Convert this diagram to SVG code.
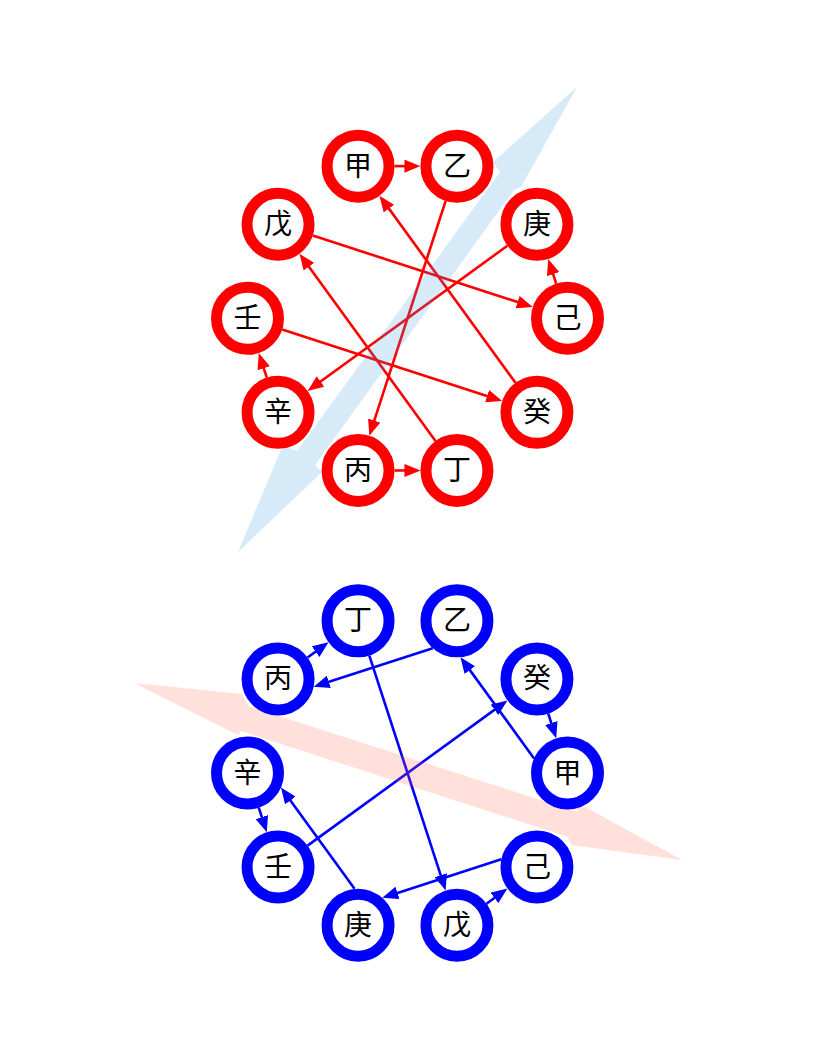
<svg xmlns="http://www.w3.org/2000/svg" width="816" height="1056" viewBox="0 0 816 1056">
<style>
.rn{fill:#ffffff;stroke:#ff0000;stroke-width:11}
.bn{fill:#ffffff;stroke:#0000ff;stroke-width:11}
.re{stroke:#ff0000;stroke-width:2.6;fill:none;marker-end:url(#ra)}
.be{stroke:#0000ff;stroke-width:2.6;fill:none;marker-end:url(#ba)}
.t{font-family:"Liberation Serif","Noto Sans CJK SC",serif;font-size:28px;fill:#000000;text-anchor:middle;dominant-baseline:central}
</style>
<defs>
<marker id="ra" markerUnits="userSpaceOnUse" viewBox="0 0 16 13" markerWidth="16" markerHeight="13" refX="8" refY="6.5" orient="auto"><path d="M0,0 L16,6.5 L0,13 z" fill="#ff0000"/></marker>
<marker id="ba" markerUnits="userSpaceOnUse" viewBox="0 0 16 13" markerWidth="16" markerHeight="13" refX="8" refY="6.5" orient="auto"><path d="M0,0 L16,6.5 L0,13 z" fill="#0000ff"/></marker>
</defs>
<rect width="816" height="1056" fill="#ffffff"/>
<g id="connectors">
<line class="re" x1="394.56" y1="166.13" x2="412.44" y2="166.13"/>
<line class="re" x1="445.66" y1="200.84" x2="371.81" y2="428.15"/>
<line class="re" x1="394.56" y1="470.47" x2="412.44" y2="470.47"/>
<line class="re" x1="435.49" y1="440.94" x2="304.21" y2="260.25"/>
<line class="re" x1="312.77" y1="235.53" x2="525.18" y2="304.55"/>
<line class="re" x1="556.22" y1="283.59" x2="550.69" y2="266.57"/>
<line class="re" x1="507.41" y1="245.71" x2="314.06" y2="386.19"/>
<line class="re" x1="266.78" y1="377.64" x2="261.25" y2="360.62"/>
<line class="re" x1="282.21" y1="329.58" x2="494.62" y2="398.60"/>
<line class="re" x1="515.49" y1="382.82" x2="384.21" y2="202.13"/>
<line class="be" x1="534.04" y1="758.42" x2="465.16" y2="663.62"/>
<line class="be" x1="432.74" y1="648.14" x2="321.31" y2="684.35"/>
<line class="be" x1="307.59" y1="657.50" x2="322.06" y2="646.98"/>
<line class="be" x1="369.34" y1="655.54" x2="443.19" y2="882.85"/>
<line class="be" x1="486.47" y1="903.72" x2="500.94" y2="893.20"/>
<line class="be" x1="501.30" y1="859.18" x2="389.87" y2="895.39"/>
<line class="be" x1="354.54" y1="888.85" x2="285.66" y2="794.05"/>
<line class="be" x1="258.78" y1="807.71" x2="264.31" y2="824.73"/>
<line class="be" x1="307.59" y1="845.59" x2="500.94" y2="705.11"/>
<line class="be" x1="548.22" y1="713.66" x2="553.75" y2="730.68"/>
</g>
<polygon id="band-blue" points="577,87 521,187 514,190 315,465 322,472 238,552 283,445 297,451 500,172 493,162" fill="#3498db" fill-opacity="0.2"/>
<polygon id="band-pink" points="134,683 242,694 248,706 578,812 577,808 585,807 682,860 571,845 568,837 241,731 238,735" fill="#ff6347" fill-opacity="0.2"/>
<g id="top-jia"><circle class="rn" cx="358.06" cy="166.13" r="31"/><text class="t" x="358.06" y="166.13">甲</text></g>
<g id="top-yi"><circle class="rn" cx="456.94" cy="166.13" r="31"/><text class="t" x="456.94" y="166.13">乙</text></g>
<g id="top-geng"><circle class="rn" cx="536.94" cy="224.25" r="31"/><text class="t" x="536.94" y="224.25">庚</text></g>
<g id="top-ji"><circle class="rn" cx="567.5" cy="318.3" r="31"/><text class="t" x="567.5" y="318.3">己</text></g>
<g id="top-gui"><circle class="rn" cx="536.94" cy="412.35" r="31"/><text class="t" x="536.94" y="412.35">癸</text></g>
<g id="top-ding"><circle class="rn" cx="456.94" cy="470.47" r="31"/><text class="t" x="456.94" y="470.47">丁</text></g>
<g id="top-bing"><circle class="rn" cx="358.06" cy="470.47" r="31"/><text class="t" x="358.06" y="470.47">丙</text></g>
<g id="top-xin"><circle class="rn" cx="278.06" cy="412.35" r="31"/><text class="t" x="278.06" y="412.35">辛</text></g>
<g id="top-ren"><circle class="rn" cx="247.5" cy="318.3" r="31"/><text class="t" x="247.5" y="318.3">壬</text></g>
<g id="top-wu"><circle class="rn" cx="278.06" cy="224.25" r="31"/><text class="t" x="278.06" y="224.25">戊</text></g>
<g id="bot-ding"><circle class="bn" cx="358.06" cy="620.83" r="31"/><text class="t" x="358.06" y="620.83">丁</text></g>
<g id="bot-yi"><circle class="bn" cx="456.94" cy="620.83" r="31"/><text class="t" x="456.94" y="620.83">乙</text></g>
<g id="bot-gui"><circle class="bn" cx="536.94" cy="678.95" r="31"/><text class="t" x="536.94" y="678.95">癸</text></g>
<g id="bot-jia"><circle class="bn" cx="567.5" cy="773" r="31"/><text class="t" x="567.5" y="773">甲</text></g>
<g id="bot-ji"><circle class="bn" cx="536.94" cy="867.05" r="31"/><text class="t" x="536.94" y="867.05">己</text></g>
<g id="bot-wu"><circle class="bn" cx="456.94" cy="925.17" r="31"/><text class="t" x="456.94" y="925.17">戊</text></g>
<g id="bot-geng"><circle class="bn" cx="358.06" cy="925.17" r="31"/><text class="t" x="358.06" y="925.17">庚</text></g>
<g id="bot-ren"><circle class="bn" cx="278.06" cy="867.05" r="31"/><text class="t" x="278.06" y="867.05">壬</text></g>
<g id="bot-xin"><circle class="bn" cx="247.5" cy="773" r="31"/><text class="t" x="247.5" y="773">辛</text></g>
<g id="bot-bing"><circle class="bn" cx="278.06" cy="678.95" r="31"/><text class="t" x="278.06" y="678.95">丙</text></g>
</svg>
